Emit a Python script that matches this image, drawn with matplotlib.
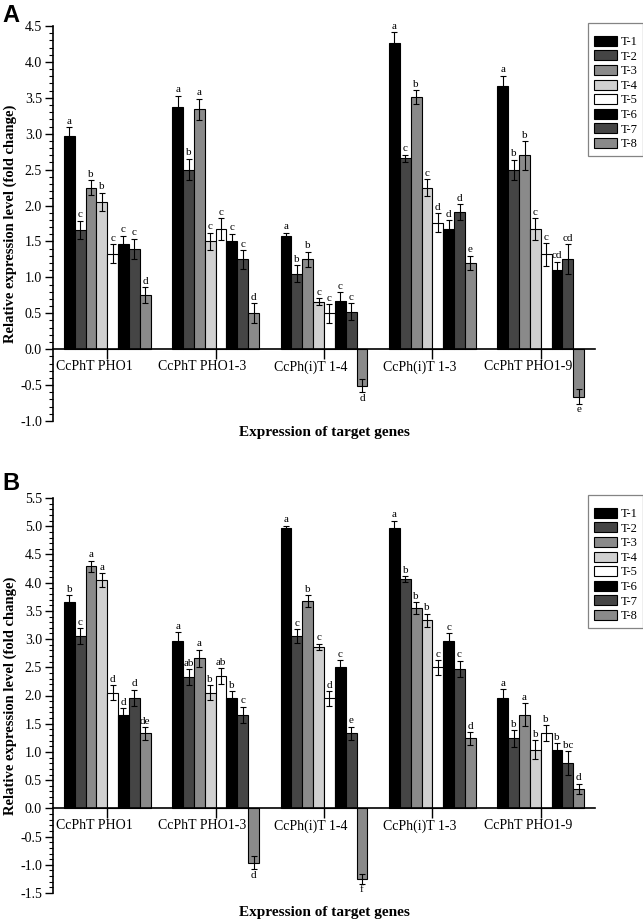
import numpy as np
import matplotlib
matplotlib.use("Agg")
import matplotlib.pyplot as plt
from matplotlib.patches import Patch
from matplotlib.ticker import MultipleLocator

# ── data ─────────────────────────────────────────────────────
GENES = ["CcPhT PHO1", "CcPhT PHO1-3", "CcPh(i)T 1-4", "CcPh(i)T 1-3", "CcPhT PHO1-9"]
TREATMENTS = ["T-1", "T-2", "T-3", "T-4", "T-5", "T-6", "T-7", "T-8"]

# panel A: one row per gene, one column per treatment
A_VALUES = [
    [2.97, 1.66, 2.25, 2.05, 1.33, 1.46, 1.40, 0.75],
    [3.37, 2.50, 3.34, 1.50, 1.67, 1.50, 1.25, 0.50],
    [1.57, 1.05, 1.25, 0.66, 0.50, 0.67, 0.52, -0.51],
    [4.27, 2.66, 3.51, 2.25, 1.76, 1.67, 1.91, 1.20],
    [3.67, 2.50, 2.70, 1.67, 1.32, 1.10, 1.25, -0.66],
]
A_ERRORS = [
    [0.12, 0.13, 0.10, 0.13, 0.13, 0.12, 0.14, 0.11],
    [0.16, 0.15, 0.15, 0.12, 0.15, 0.11, 0.13, 0.14],
    [0.05, 0.12, 0.11, 0.05, 0.13, 0.12, 0.12, 0.09],
    [0.14, 0.05, 0.10, 0.12, 0.13, 0.13, 0.11, 0.10],
    [0.14, 0.14, 0.20, 0.15, 0.16, 0.12, 0.21, 0.10],
]
A_LETTERS = [
    ["a", "c", "b", "b", "c", "c", "c", "d"],
    ["a", "b", "a", "c", "c", "c", "c", "d"],
    ["a", "b", "b", "c", "c", "c", "c", "d"],
    ["a", "c", "b", "c", "d", "d", "d", "e"],
    ["a", "b", "b", "c", "c", "cd", "cd", "e"],
]

# panel B
B_VALUES = [
    [3.66, 3.05, 4.29, 4.05, 2.05, 1.66, 1.96, 1.33],
    [2.96, 2.33, 2.66, 2.05, 2.34, 1.96, 1.66, -0.96],
    [4.97, 3.05, 3.67, 2.86, 1.95, 2.51, 1.33, -1.25],
    [4.97, 4.06, 3.55, 3.33, 2.50, 2.96, 2.47, 1.24],
    [1.96, 1.24, 1.66, 1.04, 1.33, 1.04, 0.80, 0.35],
]
B_ERRORS = [
    [0.12, 0.14, 0.10, 0.12, 0.13, 0.12, 0.14, 0.11],
    [0.16, 0.14, 0.15, 0.13, 0.14, 0.12, 0.14, 0.12],
    [0.04, 0.12, 0.11, 0.06, 0.13, 0.12, 0.12, 0.09],
    [0.13, 0.05, 0.10, 0.12, 0.13, 0.14, 0.15, 0.11],
    [0.15, 0.15, 0.20, 0.17, 0.14, 0.12, 0.21, 0.09],
]
B_LETTERS = [
    ["b", "c", "a", "a", "d", "d", "d", "de"],
    ["a", "ab", "a", "b", "ab", "b", "c", "d"],
    ["a", "c", "b", "c", "d", "c", "e", "f"],
    ["a", "b", "b", "b", "c", "c", "c", "d"],
    ["a", "b", "a", "b", "b", "b", "bc", "d"],
]

# ── style ────────────────────────────────────────────────────
COLORS = ["#000000", "#454545", "#8a8a8a", "#d0d0d0",
          "#ffffff", "#000000", "#454545", "#8a8a8a"]
SERIF = "Liberation Serif"
BAR_W = 0.1

plt.rcParams["font.family"] = SERIF
W, H = 643, 923
fig = plt.figure(figsize=(W / 100, H / 100), dpi=100)


def px_box(left, top, right, bottom):
    """pixel box -> figure fraction rect"""
    return [left / W, 1 - bottom / H, (right - left) / W, (bottom - top) / H]


def draw_panel(ax, values, errors, letters, ylim, major, xlabel_off):
    values = np.array(values)
    errors = np.array(errors)
    pos = np.arange(1, len(GENES) + 1)

    for i, t in enumerate(TREATMENTS):
        x = pos + (i - 3.5) * BAR_W
        ax.bar(x, values[:, i], width=BAR_W, color=COLORS[i],
               edgecolor="black", linewidth=0.8, zorder=2)
        ax.errorbar(x, values[:, i], yerr=errors[:, i], fmt="none",
                    ecolor="black", elinewidth=0.8, capsize=2.5,
                    capthick=0.8, zorder=3)
        for g in range(len(GENES)):
            v, e = values[g, i], errors[g, i]
            if v >= 0:
                ax.annotate(letters[g][i], (x[g], v + e), xytext=(0, 1),
                            textcoords="offset points", ha="center",
                            va="bottom", fontsize=8)
            else:
                ax.annotate(letters[g][i], (x[g], v - e), xytext=(0, -1),
                            textcoords="offset points", ha="center",
                            va="top", fontsize=8)

    ax.set_xlim(0.5, 5.5)
    ax.set_ylim(*ylim)
    ax.spines["top"].set_visible(False)
    ax.spines["right"].set_visible(False)
    ax.spines["bottom"].set_position(("data", 0))
    ax.spines["left"].set_linewidth(1.2)
    ax.spines["bottom"].set_linewidth(1.2)

    ax.yaxis.set_major_locator(MultipleLocator(major))
    ax.yaxis.set_minor_locator(MultipleLocator(0.1))
    ax.yaxis.set_major_formatter(plt.FormatStrFormatter("%.1f"))
    ax.tick_params(axis="y", which="major", direction="out", length=6,
                   width=1.0, labelsize=10, pad=2)
    ax.tick_params(axis="y", which="minor", direction="out", length=3,
                   width=0.8)
    ax.set_xticks(pos)
    ax.set_xticklabels([])
    ax.tick_params(axis="x", direction="out", length=7, width=1.0)

    for p, name in zip(pos, GENES):
        ax.annotate(name, (p - 0.12, 0), xytext=(0, -8),
                    textcoords="offset points", ha="center", va="top",
                    fontsize=10)

    ax.set_ylabel("Relative expression level (fold change)",
                  fontweight="bold", fontsize=10.5)
    ax.yaxis.set_label_coords(-0.066, 0.5)
    ax.text(0.5, xlabel_off, "Expression of target genes",
            transform=ax.transAxes, ha="center", va="center",
            fontweight="bold", fontsize=11)


def add_legend(top_px):
    handles = [Patch(facecolor=c, edgecolor="black", linewidth=0.8)
               for c in COLORS]
    leg = fig.legend(handles, TREATMENTS, loc="upper left",
                     bbox_to_anchor=(588 / W, 1 - top_px / H), fontsize=9,
                     title=" ", title_fontsize=5,
                     frameon=True, fancybox=False, edgecolor="#666666",
                     handlelength=1.9, handleheight=0.85, labelspacing=0.18,
                     handletextpad=0.25, borderpad=0.45, borderaxespad=0)
    leg.get_frame().set_linewidth(0.9)
    return leg


# ── panel A ──────────────────────────────────────────────────
ax_a = fig.add_axes(px_box(53, 26, 595, 421))
draw_panel(ax_a, A_VALUES, A_ERRORS, A_LETTERS, (-1.0, 4.5), 0.5, -0.03)
fig.text(2 / W, 1 - 16 / H, "A", fontsize=17, fontweight="bold",
         family="Liberation Sans", va="center")
add_legend(23)

# ── panel B ──────────────────────────────────────────────────
ax_b = fig.add_axes(px_box(53, 498, 595, 893))
draw_panel(ax_b, B_VALUES, B_ERRORS, B_LETTERS, (-1.5, 5.5), 0.5, -0.05)
fig.text(2 / W, 1 - 483 / H, "B", fontsize=17, fontweight="bold",
         family="Liberation Sans", va="center")
add_legend(495)

fig.savefig("out.png", dpi=100)
